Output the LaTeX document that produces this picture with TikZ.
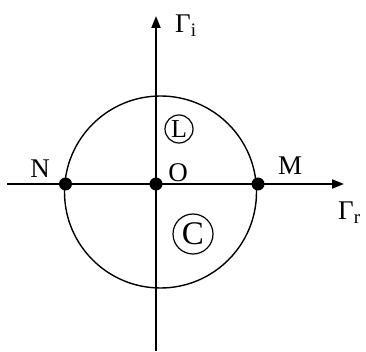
\documentclass[tikz,border=0pt]{standalone}
\usepackage{fontspec}
\setmainfont{Liberation Serif}
\usetikzlibrary{arrows.meta}
\begin{document}
\begin{tikzpicture}[x=1pt,y=-1pt,
  axis/.style={line width=1.8pt,-{Triangle[length=12pt,width=9pt]}},
  lbl/.style={font=\fontsize{27}{29}\selectfont,inner sep=0pt},
  dot/.style={circle,fill=black,inner sep=0pt,minimum size=13pt},
  ring/.style={circle,draw,line width=1.2pt,inner sep=0pt}]
\useasboundingbox (0,0) rectangle (366,352);
% axes
\coordinate (xs) at (7,184);
\coordinate (xe) at (344,184);
\coordinate (ys) at (156,351);
\coordinate (ye) at (156,16);
\draw[axis] (xs) -- (xe);
\draw[axis] (ys) -- (ye);
% circle
\coordinate (cc) at (160.5,192);
\draw[line width=1.4pt] (cc) circle[radius=96];
% points
\node[dot] (N) at (65.5,184) {};
\node[dot] (O) at (156,184) {};
\node[dot] (M) at (258,184) {};
% labels
\node[lbl,anchor=base] (lN) at (40,178) {N};
\node[lbl,anchor=base] (lO) at (178,182) {O};
\node[lbl,anchor=base] (lM) at (290,175) {M};
\node[lbl,anchor=base west] (gi) at (175,33) {Γ\raisebox{-4pt}{\fontsize{19}{19}\selectfont i}};
\node[lbl,anchor=base west] (gr) at (338,220) {Γ\raisebox{-4pt}{\fontsize{19}{19}\selectfont r}};
\node[ring,minimum size=28pt] (L) at (179,129) {};
\node[lbl,font=\fontsize{26}{28}\selectfont] at (L) {L};
\node[ring,minimum size=40pt] (C) at (193,234) {};
\node[lbl,font=\fontsize{33}{35}\selectfont] at (C) {C};
\end{tikzpicture}
\end{document}
